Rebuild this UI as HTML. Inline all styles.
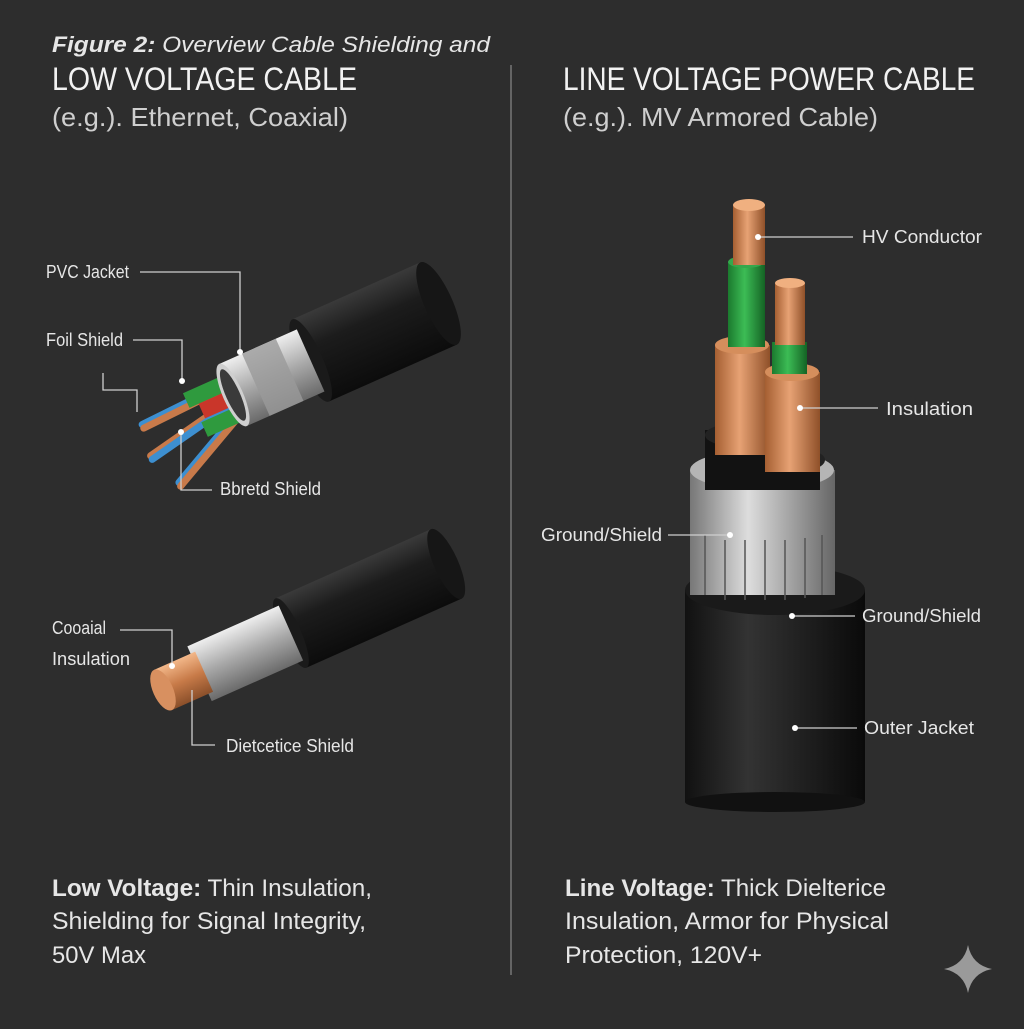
<!DOCTYPE html>
<html><head><meta charset="utf-8"><style>
html,body{margin:0;padding:0;background:#2d2d2d;}
body{width:1024px;height:1024px;overflow:hidden;position:relative;font-family:"Liberation Sans",sans-serif;}
</style></head><body>
<svg width="1024" height="1024" viewBox="0 0 1024 1024" xmlns="http://www.w3.org/2000/svg" font-family="Liberation Sans, sans-serif">
<defs>
<linearGradient id="blk" x1="0" y1="0" x2="0" y2="1"><stop offset="0" stop-color="#3a3a3a"/><stop offset=".35" stop-color="#1c1c1c"/><stop offset="1" stop-color="#0c0c0c"/></linearGradient>
<linearGradient id="sil" x1="0" y1="0" x2="0" y2="1"><stop offset="0" stop-color="#eee"/><stop offset=".5" stop-color="#a8a8a8"/><stop offset="1" stop-color="#6a6a6a"/></linearGradient>
<linearGradient id="cu" x1="0" y1="0" x2="0" y2="1"><stop offset="0" stop-color="#f3b88a"/><stop offset=".5" stop-color="#c77a48"/><stop offset="1" stop-color="#8a4f2a"/></linearGradient>
<linearGradient id="cuh" x1="0" y1="0" x2="1" y2="0"><stop offset="0" stop-color="#a55f32"/><stop offset=".45" stop-color="#e7a274"/><stop offset="1" stop-color="#8f5029"/></linearGradient>
<linearGradient id="grh" x1="0" y1="0" x2="1" y2="0"><stop offset="0" stop-color="#1b7a2e"/><stop offset=".45" stop-color="#3cbc55"/><stop offset="1" stop-color="#146324"/></linearGradient>
<linearGradient id="blkh" x1="0" y1="0" x2="1" y2="0"><stop offset="0" stop-color="#111"/><stop offset=".35" stop-color="#333"/><stop offset="1" stop-color="#0a0a0a"/></linearGradient>
<linearGradient id="silh" x1="0" y1="0" x2="1" y2="0"><stop offset="0" stop-color="#777"/><stop offset=".4" stop-color="#ddd"/><stop offset="1" stop-color="#666"/></linearGradient>
</defs>
<line x1="511" y1="65" x2="511" y2="975" stroke="#777" stroke-width="1.5"/>

<text x="52" y="52" fill="#e6e6e6" font-size="22" font-style="italic" textLength="438" lengthAdjust="spacingAndGlyphs"><tspan font-weight="bold">Figure 2:</tspan> Overview Cable Shielding and</text>
<text x="52" y="90" fill="#f2f2f2" font-size="32" textLength="305" lengthAdjust="spacingAndGlyphs">LOW VOLTAGE CABLE</text>
<text x="52" y="126" fill="#cfcfcf" font-size="26" textLength="296" lengthAdjust="spacingAndGlyphs">(e.g.). Ethernet, Coaxial)</text>
<text x="563" y="90" fill="#f2f2f2" font-size="32" textLength="412" lengthAdjust="spacingAndGlyphs">LINE VOLTAGE POWER CABLE</text>
<text x="563" y="126" fill="#cfcfcf" font-size="26" textLength="315" lengthAdjust="spacingAndGlyphs">(e.g.). MV Armored Cable)</text>

<!-- top left cable -->
<g transform="translate(233,395) rotate(-24)">
 <g stroke-width="7" stroke-linecap="round">
  <line x1="5" y1="-14" x2="-95" y2="-10" stroke="#3d8fd0"/>
  <line x1="5" y1="-10" x2="-95" y2="-6" stroke="#c87a4a"/>
  <line x1="5" y1="2" x2="-100" y2="22" stroke="#c87a4a"/>
  <line x1="5" y1="6" x2="-100" y2="26" stroke="#3d8fd0"/>
  <line x1="5" y1="14" x2="-85" y2="58" stroke="#3d8fd0"/>
  <line x1="5" y1="18" x2="-85" y2="62" stroke="#c87a4a"/>
 </g>
 <rect x="-45" y="-22" width="50" height="16" fill="#2f9a3e"/>
 <rect x="-35" y="-6" width="40" height="16" fill="#c9362a"/>
 <rect x="-40" y="12" width="45" height="16" fill="#2f9a3e"/>
 <rect x="85" y="-45" width="140" height="90" fill="url(#blk)"/>
 <ellipse cx="225" cy="0" rx="14" ry="45" fill="#161616"/>
 <ellipse cx="85" cy="0" rx="12" ry="45" fill="#1a1a1a"/>
 <rect x="0" y="-34" width="85" height="68" fill="url(#sil)"/>
 <rect x="25" y="-34" width="37" height="68" fill="#9a9a9a" opacity=".8"/>
 <ellipse cx="0" cy="0" rx="10" ry="34" fill="#cfcfcf"/>
 <ellipse cx="0" cy="0" rx="7" ry="28" fill="#3a3a3a"/>
</g>

<!-- bottom left coax -->
<g transform="translate(163,690) rotate(-24)">
 <rect x="140" y="-38" width="170" height="76" fill="url(#blk)"/>
 <ellipse cx="310" cy="0" rx="12" ry="38" fill="#161616"/>
 <ellipse cx="140" cy="0" rx="10" ry="38" fill="#1a1a1a"/>
 <rect x="40" y="-30" width="100" height="60" fill="url(#sil)"/>
 <rect x="0" y="-22" width="45" height="44" fill="url(#cu)"/>
 <ellipse cx="0" cy="0" rx="10" ry="22" fill="#d89060"/>
</g>

<!-- right cable -->
<rect x="685" y="590" width="180" height="212" fill="url(#blkh)"/>
<ellipse cx="775" cy="802" rx="90" ry="10" fill="#111"/>
<ellipse cx="775" cy="590" rx="90" ry="25" fill="#1a1a1a"/>
<rect x="690" y="470" width="145" height="125" fill="url(#silh)"/>
<ellipse cx="762" cy="470" rx="72" ry="20" fill="#b5b5b5"/>
<g stroke="#555" stroke-width="1.5">
 <line x1="705" y1="535" x2="705" y2="595"/><line x1="725" y1="540" x2="725" y2="600"/><line x1="745" y1="540" x2="745" y2="600"/><line x1="765" y1="540" x2="765" y2="600"/><line x1="785" y1="540" x2="785" y2="600"/><line x1="805" y1="538" x2="805" y2="598"/><line x1="822" y1="535" x2="822" y2="595"/>
</g>
<path d="M705 430 h115 v60 h-115z" fill="#121212"/>
<ellipse cx="740" cy="435" rx="35" ry="12" fill="#222"/>
<ellipse cx="795" cy="460" rx="30" ry="12" fill="#222"/>
<rect x="715" y="345" width="55" height="110" fill="url(#cuh)"/>
<ellipse cx="742" cy="345" rx="27" ry="9" fill="#d58e5c"/>
<rect x="728" y="262" width="37" height="85" fill="url(#grh)"/>
<ellipse cx="746" cy="262" rx="18" ry="6" fill="#35a84c"/>
<rect x="733" y="205" width="32" height="60" fill="url(#cuh)"/>
<ellipse cx="749" cy="205" rx="16" ry="6" fill="#f0b080"/>
<rect x="765" y="372" width="55" height="100" fill="url(#cuh)"/>
<ellipse cx="792" cy="372" rx="27" ry="9" fill="#d58e5c"/>
<rect x="772" y="342" width="35" height="32" fill="url(#grh)"/>
<rect x="775" y="283" width="30" height="62" fill="url(#cuh)"/>
<ellipse cx="790" cy="283" rx="15" ry="5" fill="#f0b080"/>

<!-- labels -->
<g fill="#e6e6e6" font-size="18">
<text x="46" y="278" textLength="83" lengthAdjust="spacingAndGlyphs">PVC Jacket</text>
<text x="46" y="346" textLength="77" lengthAdjust="spacingAndGlyphs">Foil Shield</text>
<text x="220" y="495" textLength="101" lengthAdjust="spacingAndGlyphs">Bbretd Shield</text>
<text x="52" y="634" textLength="54" lengthAdjust="spacingAndGlyphs">Cooaial</text>
<text x="52" y="665" textLength="78" lengthAdjust="spacingAndGlyphs">Insulation</text>
<text x="226" y="752" textLength="128" lengthAdjust="spacingAndGlyphs">Dietcetice Shield</text>
<text x="862" y="243" textLength="120" lengthAdjust="spacingAndGlyphs">HV Conductor</text>
<text x="886" y="415" textLength="87" lengthAdjust="spacingAndGlyphs">Insulation</text>
<text x="541" y="541" textLength="121" lengthAdjust="spacingAndGlyphs">Ground/Shield</text>
<text x="862" y="622" textLength="119" lengthAdjust="spacingAndGlyphs">Ground/Shield</text>
<text x="864" y="734" textLength="110" lengthAdjust="spacingAndGlyphs">Outer Jacket</text>
</g>
<g stroke="#cfcfcf" stroke-width="1.3" fill="none">
<polyline points="140,272 240,272 240,350"/>
<polyline points="133,340 182,340 182,380"/>
<polyline points="103,373 103,390 137,390 137,412"/>
<polyline points="181,432 181,490 212,490"/>
<polyline points="120,630 172,630 172,665"/>
<polyline points="192,690 192,745 215,745"/>
<line x1="758" y1="237" x2="853" y2="237"/>
<line x1="800" y1="408" x2="878" y2="408"/>
<line x1="668" y1="535" x2="730" y2="535"/>
<line x1="792" y1="616" x2="855" y2="616"/>
<line x1="795" y1="728" x2="857" y2="728"/>
</g>
<g fill="#fff">
<circle cx="240" cy="352" r="3"/><circle cx="182" cy="381" r="3"/><circle cx="181" cy="432" r="3"/><circle cx="172" cy="666" r="3"/><circle cx="758" cy="237" r="3"/><circle cx="800" cy="408" r="3"/><circle cx="730" cy="535" r="3"/><circle cx="792" cy="616" r="3"/><circle cx="795" cy="728" r="3"/>
</g>

<g font-size="24" fill="#e6e6e6">
<text x="52" y="896" textLength="320" lengthAdjust="spacingAndGlyphs"><tspan font-weight="bold">Low Voltage:</tspan> Thin Insulation,</text>
<text x="52" y="929" textLength="314" lengthAdjust="spacingAndGlyphs">Shielding for Signal Integrity,</text>
<text x="52" y="963" textLength="94" lengthAdjust="spacingAndGlyphs">50V Max</text>
<text x="565" y="896" textLength="321" lengthAdjust="spacingAndGlyphs"><tspan font-weight="bold">Line Voltage:</tspan> Thick Dielterice</text>
<text x="565" y="929" textLength="324" lengthAdjust="spacingAndGlyphs">Insulation, Armor for Physical</text>
<text x="565" y="963" textLength="197" lengthAdjust="spacingAndGlyphs">Protection, 120V+</text>
</g>
<path d="M968 945 Q972 965 992 969 Q972 973 968 993 Q964 973 944 969 Q964 965 968 945Z" fill="#9a9a9a"/>
</svg>
</body></html>
